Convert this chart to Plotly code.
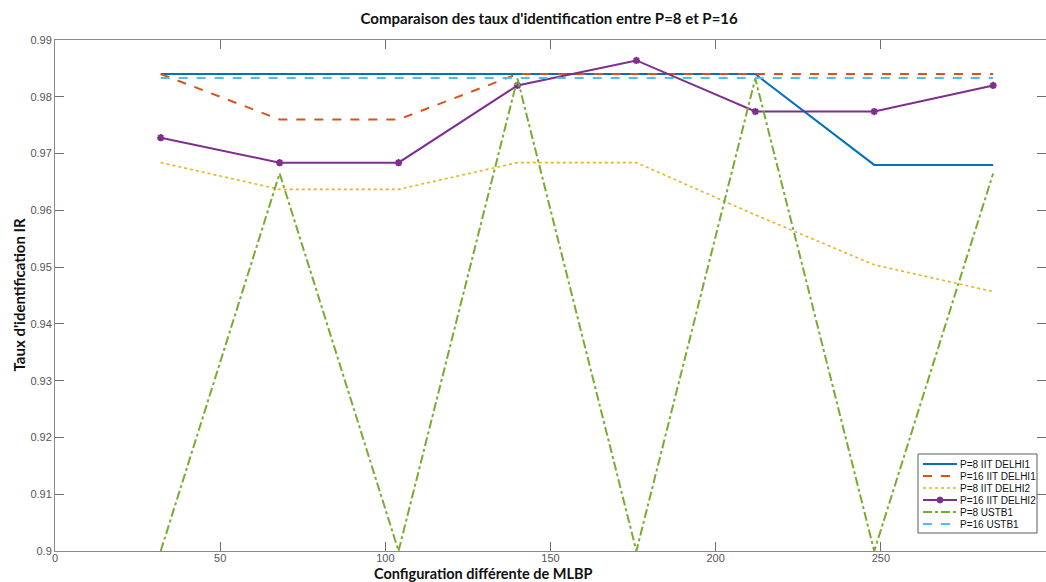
import plotly.graph_objects as go

# MLBP configurations (x positions)
configs = [32, 68, 104, 140, 176, 212, 248, 284]

# Identification rates per series
p8_iit1 = [0.984, 0.984, 0.984, 0.984, 0.984, 0.984, 0.968, 0.968]
p16_iit1 = [0.984, 0.976, 0.976, 0.984, 0.984, 0.984, 0.984, 0.984]
p8_iit2 = [0.9684, 0.9637, 0.9637, 0.9684, 0.9684, 0.9592, 0.9504, 0.9457]
p16_iit2 = [0.9728, 0.9684, 0.9684, 0.9820, 0.9864, 0.9774, 0.9774, 0.9820]
p8_ustb1 = [0.900, 0.9665, 0.900, 0.9832, 0.900, 0.9832, 0.900, 0.9665]
p16_ustb1 = [0.9833, 0.9833, 0.9833, 0.9833, 0.9833, 0.9833, 0.9833, 0.9833]

series_names = ["P=8 IIT DELHI1", "P=16 IIT DELHI1", "P=8 IIT DELHI2",
                "P=16 IIT DELHI2", "P=8 USTB1", "P=16 USTB1"]

x_ticks = [0, 50, 100, 150, 200, 250, 300]
y_ticks = [0.9, 0.91, 0.92, 0.93, 0.94, 0.95, 0.96, 0.97, 0.98, 0.99]
y_tick_text = ["0.9", "0.91", "0.92", "0.93", "0.94", "0.95", "0.96", "0.97", "0.98", "0.99"]

W, H = 1046, 582
M_L, M_R, M_T, M_B = 55, 0, 40, 31
PLOT_W = W - M_L - M_R
PLOT_H = H - M_T - M_B


def px_x(p):
    """Pixel column -> paper x fraction."""
    return (p - M_L) / PLOT_W


def px_y(p):
    """Pixel row (from top) -> paper y fraction."""
    return (H - M_B - p) / PLOT_H


fig = go.Figure()

purple_marker = dict(symbol="asterisk-open", size=6, color="#7E2F8E",
                     line=dict(color="#7E2F8E", width=2))

styles = [
    (p8_iit1, dict(color="#0072BD", width=2, dash="solid"), None),
    (p16_iit1, dict(color="#D95319", width=2, dash="dash"), None),
    (p8_iit2, dict(color="#EDB120", width=1.6, dash="dot"), None),
    (p16_iit2, dict(color="#7E2F8E", width=2, dash="solid"), purple_marker),
    (p8_ustb1, dict(color="#77AC30", width=2, dash="dashdot"), None),
    (p16_ustb1, dict(color="#4DBEEE", width=2, dash="dash"), None),
]

for name, (vals, line, marker) in zip(series_names, styles):
    fig.add_trace(go.Scatter(
        x=configs, y=vals, name=name,
        mode="lines+markers" if marker else "lines",
        line=line, marker=marker, showlegend=False,
    ))

axis_common = dict(
    showgrid=False, zeroline=False,
    showline=True, linecolor="#8a8a8a", linewidth=1, mirror="ticks",
    ticks="inside", ticklen=9, tickcolor="#6e6e6e", tickwidth=1,
    tickfont=dict(family="Liberation Sans, Arial, sans-serif", size=11, color="#555555"),
)

fig.update_xaxes(range=[0, 300], tickvals=x_ticks, ticklabelstandoff=-3, **axis_common)
fig.update_yaxes(range=[0.9, 0.99], tickvals=y_ticks, ticktext=y_tick_text, **axis_common)

# Compact legend box in the lower-right corner of the axes
shapes = [dict(type="rect", xref="paper", yref="paper", layer="above",
               x0=px_x(918), x1=px_x(1037), y0=px_y(533), y1=px_y(454),
               fillcolor="white", line=dict(color="#5a5a5a", width=1))]
annotations = []
for i, (name, (vals, line, marker)) in enumerate(zip(series_names, styles)):
    row = 464 + 12 * i
    shapes.append(dict(type="line", xref="paper", yref="paper", layer="above",
                       x0=px_x(923), x1=px_x(957), y0=px_y(row), y1=px_y(row),
                       line=line))
    if marker:
        shapes.append(dict(type="circle", xref="paper", yref="paper", layer="above",
                           xsizemode="pixel", ysizemode="pixel",
                           xanchor=px_x(940), yanchor=px_y(row),
                           x0=-3, x1=3, y0=-3, y1=3,
                           fillcolor=line["color"], line=dict(color=line["color"], width=1)))
    annotations.append(dict(text=name, xref="paper", yref="paper",
                            x=px_x(958), y=px_y(row), xanchor="left", yanchor="middle",
                            showarrow=False,
                            font=dict(family="Liberation Sans, Arial, sans-serif",
                                      size=10, color="#111111")))

title_font = dict(family="Lato, Open Sans, sans-serif", size=15, color="#111111")
axis_title_font = dict(family="Lato, Open Sans, sans-serif", size=14.5, color="#111111")

annotations += [
    dict(text="<b>Configuration différente de MLBP</b>", xref="paper", yref="paper",
         x=px_x(483), y=px_y(573.5), xanchor="center", yanchor="middle", showarrow=False,
         font=axis_title_font),
    dict(text="<b>Taux d'identification IR</b>", xref="paper", yref="paper",
         x=px_x(18), y=0.5, xanchor="center", yanchor="middle", showarrow=False,
         textangle=-90, font=title_font),
]

fig.update_layout(
    width=W, height=H,
    margin=dict(l=M_L, r=M_R, t=M_T, b=M_B),
    plot_bgcolor="white", paper_bgcolor="white",
    title=dict(
        text="<b>Comparaison des taux d'identification entre P=8 et P=16</b>",
        x=0.525, xanchor="center", y=0.968, yanchor="middle",
        font=title_font,
    ),
    showlegend=False,
    shapes=shapes,
    annotations=annotations,
)

fig.write_html("out.html")
